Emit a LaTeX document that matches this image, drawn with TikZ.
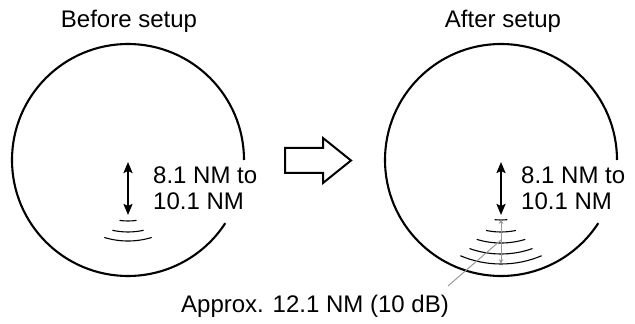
\documentclass[tikz,border=0pt]{standalone}
\usepackage{fontspec}
\setmainfont{Liberation Sans}
\usetikzlibrary{arrows.meta}

\begin{document}
\begin{tikzpicture}[
  x=1pt, y=1pt,
  font=\fontsize{24}{25.5}\selectfont,
  >=Stealth,
  screen/.style={line width=2.1pt},
  title/.style={anchor=base, inner sep=0pt},
  rng/.style={anchor=north west, inner sep=0pt, align=left},
  dist/.style={<->, line width=2pt, >={Stealth[length=11pt,width=9pt,inset=2pt]}},
  echo/.style={line width=1.1pt},
  gauge/.style={<->, black!40, line width=1pt, >={Stealth[length=5pt,width=4.5pt]}},
  lead/.style={black!40, line width=1pt},
  hollow/.style={draw, line width=2pt, line join=miter}
]
\useasboundingbox (0,0) rectangle (635,324);

% ---- centres of the two screens ----
\coordinate (cL) at (128,164);
\coordinate (cR) at (501,164);

% ---- titles ----
\node[title] (tL) at (129,296) {Before setup};
\node[title] (tR) at (503,296) {After setup};

% ---- screens (open where the text sits) ----
\draw[screen] (cL) ++(0:116) arc[start angle=0, end angle=327, radius=116pt];
\draw[screen] (cR) ++(0:116) arc[start angle=0, end angle=327, radius=116pt];

% ---- before setup ----
\coordinate (aL1) at (128,162);
\coordinate (aL2) at (128,109);
\draw[dist] (aL1) -- (aL2);
\node[rng] (rL) at (153,157) {8.1 NM to\\10.1 NM};
\foreach \r/\a in {61/8, 72/12.5, 81/17}
  \draw[echo] (cL) ++(270-\a:\r) arc[start angle=270-\a, end angle=270+\a, radius=\r pt];

% ---- after setup ----
\coordinate (aR1) at (501,162);
\coordinate (aR2) at (501,109);
\draw[dist] (aR1) -- (aR2);
\node[rng] (rR) at (521,157) {8.1 NM to\\10.1 NM};
\foreach \r/\a in {60/6, 72/12, 83/17, 94/19.6, 104/23}
  \draw[echo] (cR) ++(270-\a:\r) arc[start angle=270-\a, end angle=270+\a, radius=\r pt];
\coordinate (gR1) at (501,105);
\coordinate (gR2) at (501,60);
\draw[gauge] (gR1) -- (gR2);

% ---- leader and note ----
\coordinate (eR) at (501,84);
\coordinate (lR) at (448,38);
\draw[lead] (eR) -- (lR);
\node[title] (note) at (315,11) {Approx. 12.1 NM (10 dB)};

% ---- hollow arrow between the screens ----
\draw[hollow] (285,176) -- (323,176) -- (323,186) -- (351,163.5)
  -- (323,141) -- (323,151) -- (285,151) -- cycle;
\end{tikzpicture}
\end{document}
